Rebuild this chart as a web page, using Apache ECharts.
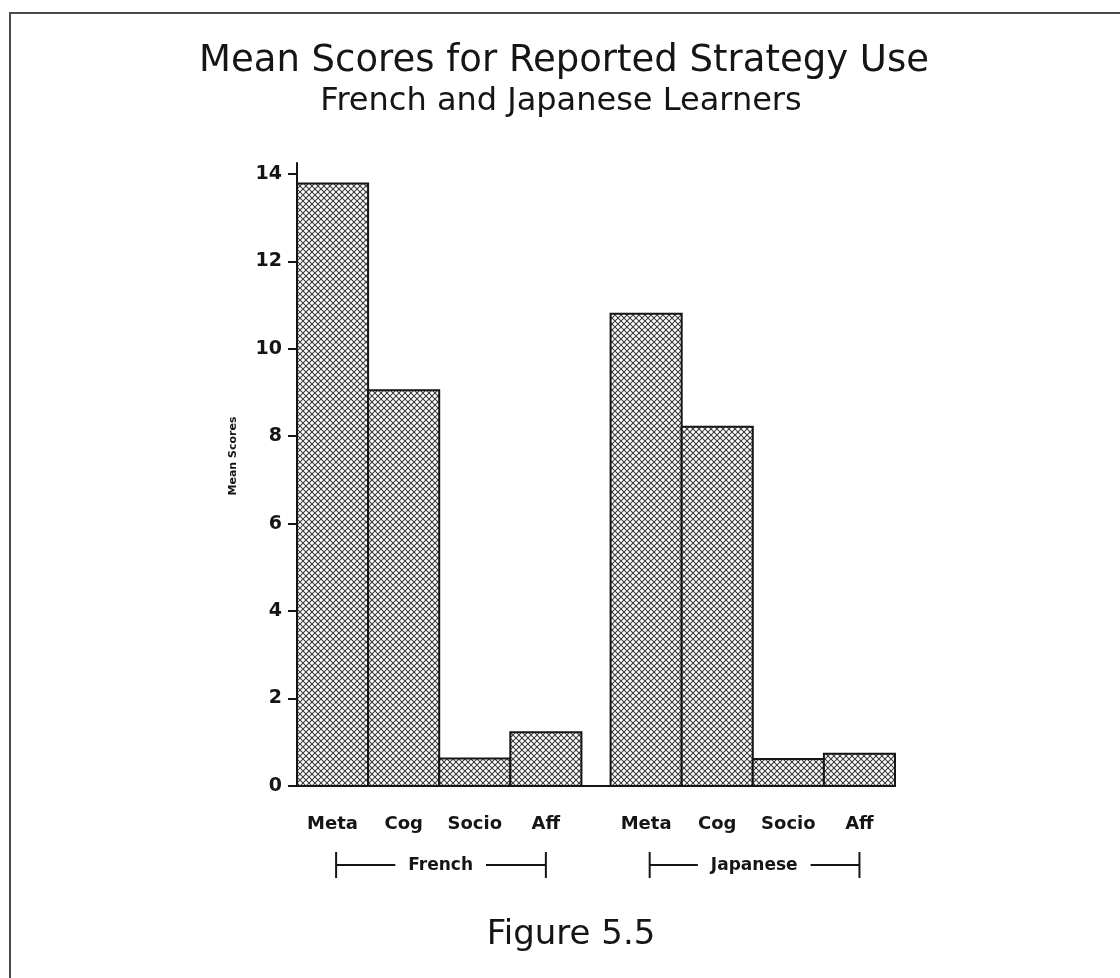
<!DOCTYPE html>
<html><head><meta charset="utf-8">
<script src="https://cdn.jsdelivr.net/npm/echarts@6/dist/echarts.min.js"></script>
<style>html,body{margin:0;padding:0;background:#fff}#c{width:1120px;height:978px}</style>
</head><body><div id="c"></div>
<script>
// ---- data ----
const titleText = 'Mean Scores for Reported Strategy Use';
const subtitleText = 'French and Japanese Learners';
const captionText = 'Figure 5.5';
const yAxisName = 'Mean Scores';
const groups = ['French', 'Japanese'];
const strategies = ['Meta', 'Cog', 'Socio', 'Aff'];
const frenchScores = [13.78, 9.05, 0.63, 1.23];
const japaneseScores = [10.8, 8.22, 0.62, 0.74];
const yTicks = [0, 2, 4, 6, 8, 10, 12, 14];

// ---- layout / style constants ----
const GROUP_GAP = 0.41;           // gap between groups, in bar widths
const BRACKET_FROM = 0.55, BRACKET_TO = 3.5, BRACKET_TEXT = 2.02;
const FONT = '"DejaVu Sans", "Liberation Sans", sans-serif';
const INK = '#151515';

function makePattern() {
  const s = 6, c = document.createElement('canvas');
  c.width = s; c.height = s;
  const ctx = c.getContext('2d');
  ctx.fillStyle = '#ffffff'; ctx.fillRect(0, 0, s, s);
  ctx.strokeStyle = '#3c3c3c'; ctx.lineWidth = 1.1;
  for (let k = -1; k <= 1; k++) {
    ctx.beginPath(); ctx.moveTo(k * s - 1, -1); ctx.lineTo(k * s + s + 1, s + 1); ctx.stroke();
    ctx.beginPath(); ctx.moveTo(k * s - 1, s + 1); ctx.lineTo(k * s + s + 1, -1); ctx.stroke();
  }
  return { image: c, repeat: 'repeat' };
}
const pattern = makePattern();

const scoresByGroup = [frenchScores, japaneseScores];
const barData = [];
scoresByGroup.forEach((arr, gi) => arr.forEach((v, si) => barData.push([gi, si, v])));
const groupData = groups.map((g, gi) => [gi, 0]);
const groupStart = gi => gi * (strategies.length + GROUP_GAP);
const xMax = groups.length * strategies.length + (groups.length - 1) * GROUP_GAP;

const mctx = document.createElement('canvas').getContext('2d');
function textWidth(t, font) { mctx.font = font; return mctx.measureText(t).width; }

const chart = echarts.init(document.getElementById('c'), null, { renderer: 'canvas' });
const groupFont = 'bold 17px ' + FONT;

chart.setOption({
  animation: false,
  backgroundColor: '#ffffff',
  grid: { left: 297, right: 225, top: 163, bottom: 192, containLabel: false },
  xAxis: {
    type: 'value', min: 0, max: xMax,
    axisLine: { show: true, onZero: false, lineStyle: { color: INK, width: 2 } },
    axisTick: { show: false }, axisLabel: { show: false }, splitLine: { show: false }
  },
  yAxis: {
    type: 'value', min: 0, max: 14.25, interval: 2,
    axisLine: { show: true, lineStyle: { color: INK, width: 2 } },
    axisTick: { show: true, length: 9, customValues: yTicks, lineStyle: { color: INK, width: 2 } },
    axisLabel: {
      customValues: yTicks, margin: 15, color: INK, fontSize: 19, fontWeight: 'bold', fontFamily: FONT,
      formatter: v => (yTicks.indexOf(v) >= 0 ? String(v) : '')
    },
    splitLine: { show: false }
  },
  graphic: [
    { type: 'polyline', shape: { points: [[10, 978], [10, 13], [1120, 13]] },
      style: { stroke: '#4a4a4a', lineWidth: 2, fill: null } },
    { type: 'text', x: 564, y: 61, style: { text: titleText, font: '37px ' + FONT, fill: INK, align: 'center', verticalAlign: 'middle' } },
    { type: 'text', x: 561, y: 102, style: { text: subtitleText, font: '32px ' + FONT, fill: INK, align: 'center', verticalAlign: 'middle' } },
    { type: 'text', x: 571, y: 935, style: { text: captionText, font: '34px ' + FONT, fill: INK, align: 'center', verticalAlign: 'middle' } },
    { type: 'text', x: 233, y: 456, rotation: Math.PI / 2,
      style: { text: yAxisName, font: 'bold 11px ' + FONT, fill: INK, align: 'center', verticalAlign: 'middle' } }
  ],
  series: [
    {
      type: 'custom', clip: false,
      encode: { x: 0, y: 2 },
      data: barData,
      renderItem: function (params, api) {
        const gi = api.value(0), si = api.value(1), v = api.value(2);
        const x0 = groupStart(gi) + si;
        const tl = api.coord([x0, v]);
        const br = api.coord([x0 + 1, 0]);
        return {
          type: 'group',
          children: [
            { type: 'rect', shape: { x: tl[0], y: tl[1], width: br[0] - tl[0], height: br[1] - tl[1] },
              style: { fill: pattern, stroke: INK, lineWidth: 2 } },
            { type: 'text', x: (tl[0] + br[0]) / 2, y: br[1] + 38,
              style: { text: strategies[si], font: 'bold 18px ' + FONT, fill: INK, align: 'center', verticalAlign: 'middle' } }
          ]
        };
      }
    },
    {
      type: 'custom', clip: false,
      encode: { x: 0, y: 1 },
      data: groupData,
      renderItem: function (params, api) {
        const gi = api.value(0);
        const base = api.coord([groupStart(gi), 0]);
        const a = api.coord([groupStart(gi) + BRACKET_FROM, 0])[0];
        const b = api.coord([groupStart(gi) + BRACKET_TO, 0])[0];
        const c = api.coord([groupStart(gi) + BRACKET_TEXT, 0])[0];
        const y = base[1] + 79;
        const label = groups[gi];
        const w = textWidth(label, groupFont);
        const ls = { stroke: INK, lineWidth: 2 };
        return {
          type: 'group',
          children: [
            { type: 'line', shape: { x1: a, y1: y - 13, x2: a, y2: y + 13 }, style: ls },
            { type: 'line', shape: { x1: a, y1: y, x2: c - w / 2 - 13, y2: y }, style: ls },
            { type: 'text', x: c, y: y + 1, style: { text: label, font: groupFont, fill: INK, align: 'center', verticalAlign: 'middle' } },
            { type: 'line', shape: { x1: c + w / 2 + 13, y1: y, x2: b, y2: y }, style: ls },
            { type: 'line', shape: { x1: b, y1: y - 13, x2: b, y2: y + 13 }, style: ls }
          ]
        };
      }
    }
  ]
});
</script>
</body></html>
